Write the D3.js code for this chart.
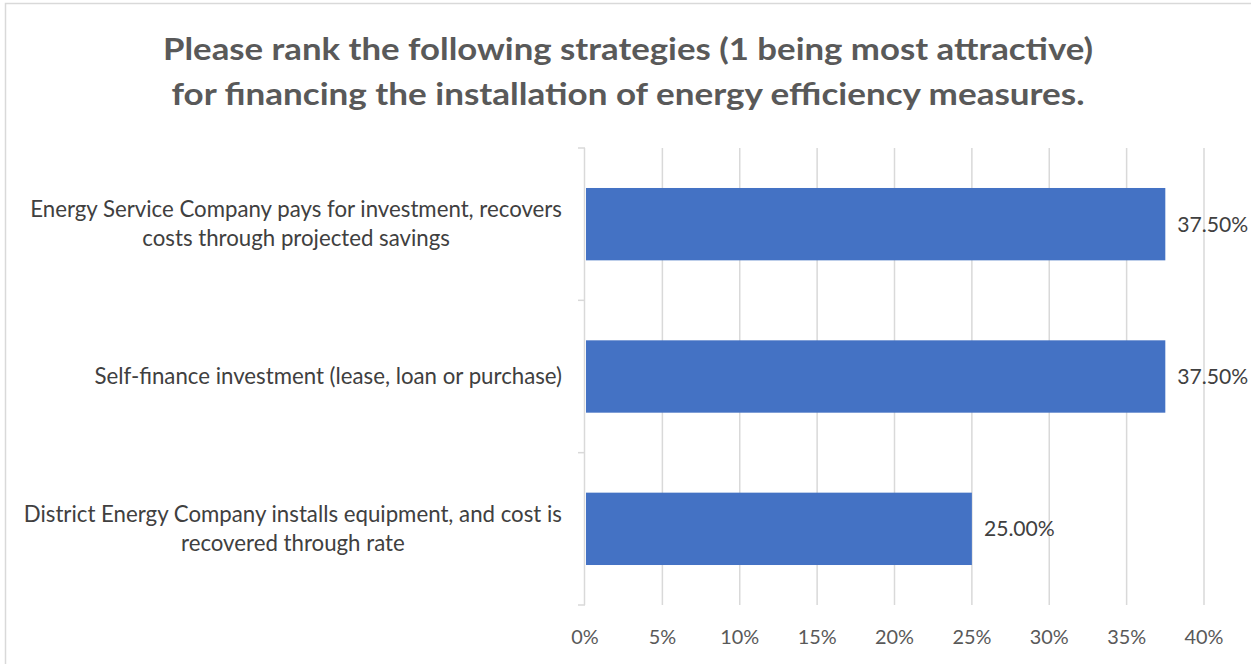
<!DOCTYPE html>
<html>
<head>
<meta charset="utf-8">
<script src="https://cdn.jsdelivr.net/npm/d3@7"></script>
<style>
  html, body { margin: 0; padding: 0; background: #fff; }
  svg { display: block; }
  text { font-family: Lato, "Open Sans", sans-serif; }
</style>
</head>
<body>
<svg id="chart" width="1251" height="664"></svg>
<script>
// Survey responses: share ranking each financing strategy as most attractive
const categories = [
  ["Energy Service Company pays for investment, recovers", "costs through projected savings"],
  ["Self-finance investment (lease, loan or purchase)"],
  ["District Energy Company installs equipment, and cost is", "recovered through rate"]
];
const values = [37.5, 37.5, 25.0];
const tickValues = [0, 5, 10, 15, 20, 25, 30, 35, 40];
const titleLines = [
  "Please rank the following strategies (1 being most attractive)",
  "for financing the installation of energy efficiency measures."
];

const svg = d3.select("#chart");
const W = 1251, H = 664;
const plot = { left: 585, right: 1204, top: 148, bottom: 605 };
const grid = "#d9d9d9";
const textColor = "#404040";

// pick a font size so that a sample string renders at the given width
function fitSize(sample, width, weight) {
  const t = svg.append("text").attr("font-size", 100)
    .attr("font-weight", weight || 400).text(sample);
  const w = t.node().getComputedTextLength();
  t.remove();
  return 100 * width / w;
}
const labelSize = fitSize(categories[0][0], 532);
const valueSize = fitSize("37.50%", 71);
const tickSize = fitSize("10%", 39);

// outer chart frame
svg.append("rect")
  .attr("x", 5.5).attr("y", 3.5)
  .attr("width", W + 10).attr("height", H + 10)
  .attr("fill", "#fff").attr("stroke", grid).attr("stroke-width", 1.5);

// title
svg.append("g").selectAll("text").data(titleLines).join("text")
  .attr("x", 628).attr("y", (d, i) => 60 + i * 45)
  .attr("text-anchor", "middle")
  .attr("font-size", 31).attr("font-weight", 700)
  .attr("fill", "#595959")
  .attr("textLength", (d, i) => i === 0 ? 930 : 913)
  .attr("lengthAdjust", "spacingAndGlyphs")
  .text(d => d);

const x = d3.scaleLinear().domain([0, 40]).range([plot.left, plot.right]);
const y = d3.scaleBand().domain(d3.range(categories.length))
  .range([plot.top, plot.bottom]).paddingInner(0.525).paddingOuter(0.2625);

// vertical gridlines
svg.append("g").selectAll("line").data(tickValues.slice(1)).join("line")
  .attr("x1", d => x(d)).attr("x2", d => x(d))
  .attr("y1", plot.top).attr("y2", plot.bottom)
  .attr("stroke", grid).attr("stroke-width", 1.5);

// category axis with outward ticks at band boundaries
const axisG = svg.append("g");
axisG.append("line")
  .attr("x1", plot.left - 0.5).attr("x2", plot.left - 0.5)
  .attr("y1", plot.top).attr("y2", plot.bottom)
  .attr("stroke", grid).attr("stroke-width", 1.5);
const step = (plot.bottom - plot.top) / categories.length;
axisG.selectAll("line.tick").data(d3.range(categories.length + 1)).join("line")
  .attr("class", "tick")
  .attr("x1", plot.left - 7).attr("x2", plot.left)
  .attr("y1", d => plot.top + d * step).attr("y2", d => plot.top + d * step)
  .attr("stroke", grid).attr("stroke-width", 1.5);

// bars
svg.append("g").selectAll("rect").data(values).join("rect")
  .attr("x", x(0) + 1)
  .attr("y", (d, i) => y(i))
  .attr("width", d => x(d) - x(0) - 1)
  .attr("height", y.bandwidth())
  .attr("fill", "#4472c4");

// value labels
svg.append("g").selectAll("text").data(values).join("text")
  .attr("x", d => x(d) + 12)
  .attr("y", (d, i) => y(i) + y.bandwidth() / 2)
  .attr("dy", "0.35em")
  .attr("font-size", valueSize).attr("fill", textColor)
  .text(d => d.toFixed(2) + "%");

// category labels: block right-aligned, lines centred within the block
const lineH = 29;
const labelRight = 562;
categories.forEach((lines, i) => {
  const g = svg.append("g");
  const cy = y(i) + y.bandwidth() / 2;
  const texts = g.selectAll("text").data(lines).join("text")
    .attr("y", (d, j) => cy + (j - (lines.length - 1) / 2) * lineH)
    .attr("dy", "0.35em")
    .attr("font-size", labelSize).attr("fill", textColor)
    .attr("text-anchor", "middle")
    .text(d => d);
  const maxW = d3.max(texts.nodes(), n => n.getComputedTextLength());
  texts.attr("x", labelRight - maxW / 2);
});

// value axis labels
svg.append("g").selectAll("text").data(tickValues).join("text")
  .attr("x", d => x(d)).attr("y", 637)
  .attr("dy", "0.35em")
  .attr("text-anchor", "middle")
  .attr("font-size", tickSize).attr("fill", "#595959")
  .text(d => d + "%");
</script>
</body>
</html>
